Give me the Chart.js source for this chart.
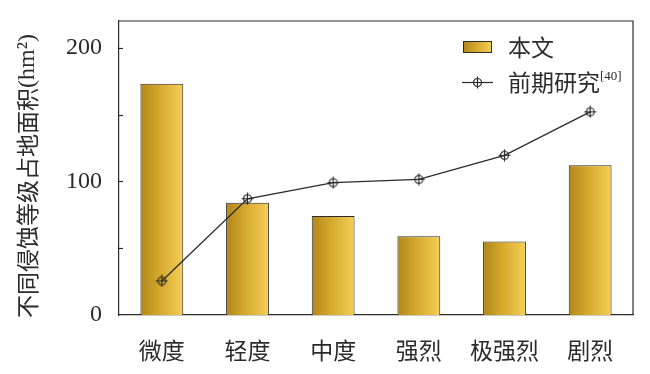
<!DOCTYPE html>
<html>
<head>
<meta charset="utf-8">
<script src="https://cdn.jsdelivr.net/npm/chart.js@4/dist/chart.umd.min.js"></script>
<style>
html,body{margin:0;padding:0;background:#fff;}
#c{display:block;}
</style>
</head>
<body>
<canvas id="c" width="650" height="374"></canvas>
<script>
const categories = ['微度', '轻度', '中度', '强烈', '极强烈', '剧烈'];
const thisStudy = [173, 84, 74, 59, 55, 112];
const previousStudy = [25.5, 87, 99, 101.5, 119.5, 152];
const yTickLabels = [0, 100, 200];
const seriesNames = ['本文', '前期研究'];
const refMark = '[40]';
const yTitleCJK = '不同侵蚀等级占地面积';
const yTitleUnit = '(hm²)';

const CJK = '"Noto Sans CJK SC", "Noto Sans", sans-serif';
const SERIF = '"Liberation Serif", "DejaVu Serif", serif';
const INK = '#2b2b2b';

function goldGradient(ctx, x0, x1) {
  const g = ctx.createLinearGradient(x0, 0, x1, 0);
  g.addColorStop(0, '#b08619');
  g.addColorStop(0.45, '#d6a92e');
  g.addColorStop(1, '#f4cf57');
  return g;
}

// marker: circle with cross
const marker = document.createElement('canvas');
marker.width = 13; marker.height = 13;
(function () {
  const m = marker.getContext('2d');
  m.strokeStyle = INK; m.lineWidth = 1.2;
  m.beginPath(); m.arc(6.5, 6.5, 4, 0, Math.PI * 2); m.stroke();
  m.beginPath();
  m.moveTo(6.5, 0.5); m.lineTo(6.5, 12.5);
  m.moveTo(0.5, 6.5); m.lineTo(12.5, 6.5);
  m.stroke();
})();

const decor = {
  id: 'decor',
  afterDraw(chart) {
    const ctx = chart.ctx, a = chart.chartArea, y = chart.scales.y;
    ctx.save();
    ctx.strokeStyle = INK; ctx.lineWidth = 1.2;
    // frame top & right
    ctx.beginPath();
    ctx.moveTo(a.left, a.top); ctx.lineTo(a.right, a.top); ctx.lineTo(a.right, a.bottom);
    ctx.stroke();
    // inward ticks
    [50, 100, 150, 200].forEach(v => {
      const py = Math.round(y.getPixelForValue(v)) + 0.5;
      ctx.beginPath(); ctx.moveTo(a.left, py); ctx.lineTo(a.left + 4, py); ctx.stroke();
    });
    // y title
    ctx.save();
    ctx.translate(27, 176);
    ctx.rotate(-Math.PI / 2);
    ctx.fillStyle = INK;
    ctx.textBaseline = 'middle';
    ctx.font = '23px ' + CJK;
    const w1 = ctx.measureText(yTitleCJK).width;
    ctx.font = '24px ' + SERIF;
    const w2 = ctx.measureText(yTitleUnit).width;
    let sx = -(w1 + w2) / 2;
    ctx.textAlign = 'left';
    ctx.font = '23px ' + CJK;
    ctx.fillText(yTitleCJK, sx, 0);
    ctx.font = '24px ' + SERIF;
    ctx.fillText(yTitleUnit, sx + w1, 1);
    ctx.restore();

    // legend
    ctx.fillStyle = goldGradient(ctx, 463, 492);
    ctx.fillRect(463, 41, 29, 12);
    ctx.lineWidth = 1;
    ctx.strokeRect(463.5, 41.5, 28, 11);
    ctx.fillStyle = INK;
    ctx.textBaseline = 'middle';
    ctx.textAlign = 'left';
    ctx.font = '23px ' + CJK;
    ctx.fillText(seriesNames[0], 508, 47);
    ctx.lineWidth = 1.2;
    ctx.beginPath(); ctx.moveTo(462, 82.5); ctx.lineTo(493, 82.5); ctx.stroke();
    ctx.drawImage(marker, 477.5 - 6.5, 82.5 - 6.5);
    ctx.fillText(seriesNames[1], 508, 82);
    const tw = ctx.measureText(seriesNames[1]).width;
    ctx.font = '13px ' + SERIF;
    ctx.fillText(refMark, 508 + tw, 77);
    ctx.restore();
  }
};

new Chart(document.getElementById('c'), {
  data: {
    labels: categories,
    datasets: [
      {
        type: 'line',
        label: seriesNames[1],
        data: previousStudy,
        borderColor: INK,
        borderWidth: 1.3,
        pointStyle: marker,
        pointRadius: 6,
        tension: 0,
        order: 0
      },
      {
        type: 'bar',
        label: seriesNames[0],
        data: thisStudy,
        barPercentage: 0.5,
        categoryPercentage: 1,
        borderColor: INK,
        borderWidth: 1,
        borderSkipped: 'bottom',
        backgroundColor(c) {
          const ch = c.chart, xs = ch.scales.x;
          if (!ch.chartArea || !xs || c.dataIndex === undefined) return '#d6a92e';
          const cx = xs.getPixelForValue(c.dataIndex);
          const half = (ch.chartArea.width / categories.length) * 0.25;
          return goldGradient(ch.ctx, cx - half, cx + half);
        },
        order: 1
      }
    ]
  },
  options: {
    responsive: false,
    animation: false,
    devicePixelRatio: 1,
    layout: { padding: { top: 21, right: 17, left: 0, bottom: 0 } },
    plugins: { legend: { display: false }, tooltip: { enabled: false } },
    scales: {
      x: {
        grid: { display: false, drawTicks: false },
        border: { display: true, color: INK, width: 1.2 },
        ticks: { color: INK, font: { family: CJK, size: 23 }, padding: 21, maxRotation: 0 },
        afterFit(s) { s.height = 59; s.paddingLeft = 0; s.paddingRight = 0; }
      },
      y: {
        min: 0, max: 220,
        afterBuildTicks(s) { s.ticks = yTickLabels.map(v => ({ value: v })); },
        grid: { display: false, drawTicks: false },
        border: { display: true, color: INK, width: 1.2 },
        ticks: { color: INK, font: { family: SERIF, size: 24 }, padding: 17 },
        afterFit(s) { s.width = 119; s.paddingTop = 0; s.paddingBottom = 0; }
      }
    }
  },
  plugins: [decor]
});
</script>
</body>
</html>
